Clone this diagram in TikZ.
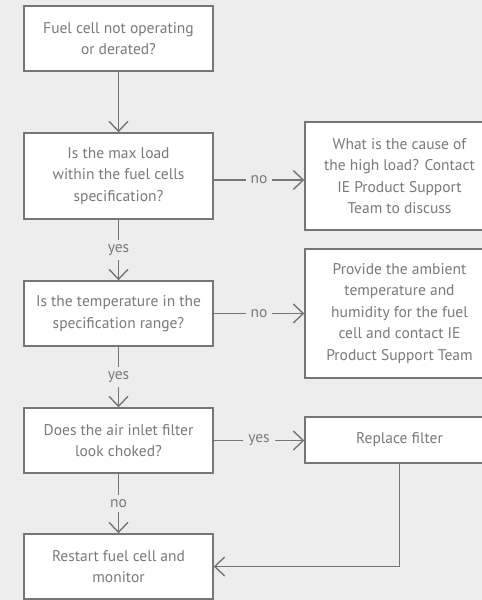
\documentclass[tikz,border=0pt]{standalone}
\usepackage{fontspec}
\setmainfont{PT Sans}
\usetikzlibrary{arrows.meta}
\definecolor{bg}{HTML}{EDEDED}
\definecolor{ln}{HTML}{767676}
\definecolor{tx}{HTML}{7A7A7A}
\tikzset{
  box/.style={draw=ln, fill=white, line width=1.4pt, minimum width=189pt, inner sep=0pt, align=center, text=tx, font=\fontsize{15.5}{21.5}\selectfont},
  conn/.style={draw=ln, line width=1.4pt, -{Straight Barb[length=10pt,width=19pt,line width=1.4pt]}},
  lbl/.style={fill=bg, text=tx, inner xsep=5pt, inner ysep=4pt, font=\fontsize{15.5}{16}\selectfont}
}
\begin{document}
\begin{tikzpicture}[x=1pt,y=-1pt]
\useasboundingbox (0,0) rectangle (482,600);
\clip (0,0) rectangle (482,600);
\fill[bg] (0,0) rectangle (482,600);
\node[box, minimum height=65pt] (b1) at (118.5,38.5) {Fuel cell not operating\\or derated?};
\node[box, minimum height=86pt] (b2) at (118.5,176) {Is the max load\\within the fuel cells\\specification?};
\node[box, minimum height=108pt] (b3) at (399.5,176) {What is the cause of\\the high load? Contact\\IE Product Support\\Team to discuss};
\node[box, minimum height=65pt] (b4) at (118.5,313.5) {Is the temperature in the\\specification range?};
\node[box, minimum height=129pt] (b5) at (399.5,313.5) {Provide the ambient\\temperature and\\humidity for the fuel\\cell and contact IE\\Product Support Team};
\node[box, minimum height=65pt] (b6) at (118.5,440.5) {Does the air inlet filter\\look choked?};
\node[box, minimum height=46pt] (b7) at (399.5,440) {Replace filter};
\node[box, minimum height=65pt] (b8) at (118.5,566.5) {Restart fuel cell and\\monitor};

\draw[conn] (b1.south) -- (b2.north);
\draw[conn] ([yshift=-4pt]b2.east) -- node[lbl]{no} ([yshift=-4pt]b2.east -| b3.west);
\draw[conn] (b2.south) -- node[lbl]{yes} (b4.north);
\draw[conn] (b4.east) -- node[lbl]{no} (b4.east -| b5.west);
\draw[conn] (b4.south) -- node[lbl]{yes} (b6.north);
\draw[conn] (b6.east) -- node[lbl]{yes} (b6.east -| b7.west);
\draw[conn] (b6.south) -- node[lbl]{no} (b8.north);
\draw[conn] (b7.south) |- (b8.east);
\end{tikzpicture}
\end{document}
